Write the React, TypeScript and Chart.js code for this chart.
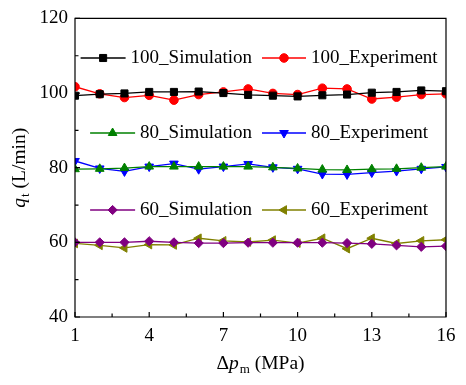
import React, { useEffect, useRef } from "react";
import { Chart, registerables } from "chart.js";

Chart.register(...registerables);

const xValues = [1, 2, 3, 4, 5, 6, 7, 8, 9, 10, 11, 12, 13, 14, 15, 16];
const sim100 = [99.3, 99.7, 99.9, 100.3, 100.3, 100.4, 100.0, 99.5, 99.3, 99.1, 99.4, 99.6, 100.1, 100.3, 100.7, 100.5];
const exp100 = [101.7, 99.8, 98.8, 99.4, 98.1, 99.6, 100.3, 101.1, 99.9, 99.6, 101.3, 101.1, 98.4, 98.9, 99.6, 99.8];
const sim80 = [79.6, 79.7, 79.9, 80.3, 80.3, 80.3, 80.3, 80.3, 80.1, 79.8, 79.5, 79.4, 79.6, 79.7, 80.0, 80.3];
const exp80 = [81.8, 79.8, 79.0, 80.3, 81.1, 79.6, 80.3, 81.0, 80.1, 79.7, 78.3, 78.2, 78.7, 79.1, 79.7, 80.2];
const sim60 = [60.0, 60.0, 60.0, 60.3, 60.0, 59.8, 59.8, 59.9, 59.9, 59.9, 59.9, 59.8, 59.6, 59.2, 58.8, 59.0];
const exp60 = [59.7, 59.2, 58.5, 59.4, 59.3, 61.1, 60.4, 60.1, 60.6, 59.8, 61.1, 58.3, 61.1, 59.7, 60.4, 60.7];

const seriesLabels = ["100_Simulation", "100_Experiment", "80_Simulation", "80_Experiment", "60_Simulation", "60_Experiment"];
const seriesValues = [sim100, exp100, sim80, exp80, sim60, exp60];
const seriesColors = ["#000000", "#ff0000", "#008000", "#0000ff", "#800080", "#808000"];
const seriesMarkers = ["rect", "circle", "triangle", "triangle", "rectRot", "triangle"];
const seriesRotations = [0, 0, 0, 180, 0, 270];
const seriesRadii = [5, 4.3, 5, 5, 4.6, 5];

const yMajorTicks = [40, 60, 80, 100, 120];
const yMinorTicks = [50, 70, 90, 110];
const xMajorTicks = [1, 4, 7, 10, 13, 16];
const xMinorTicks = [2.5, 5.5, 8.5, 11.5, 14.5];

const FONT = "'Liberation Serif', 'Times New Roman', serif";

function drawMarker(ctx: CanvasRenderingContext2D, style: string, x: number, y: number, r: number, rotDeg: number, color: string) {
  ctx.save();
  ctx.fillStyle = color;
  ctx.strokeStyle = color;
  ctx.lineWidth = 1;
  ctx.beginPath();
  let rad = (rotDeg * Math.PI) / 180;
  if (style === "circle") {
    ctx.arc(x, y, r, 0, Math.PI * 2);
  } else if (style === "rect") {
    const s = Math.SQRT1_2 * r;
    ctx.rect(x - s, y - s, 2 * s, 2 * s);
  } else if (style === "rectRot") {
    ctx.moveTo(x - r, y);
    ctx.lineTo(x, y + r);
    ctx.lineTo(x + r, y);
    ctx.lineTo(x, y - r);
  } else {
    const t = (2 * Math.PI) / 3;
    ctx.moveTo(x + Math.sin(rad) * r, y - Math.cos(rad) * r);
    rad += t;
    ctx.lineTo(x + Math.sin(rad) * r, y - Math.cos(rad) * r);
    rad += t;
    ctx.lineTo(x + Math.sin(rad) * r, y - Math.cos(rad) * r);
  }
  ctx.closePath();
  ctx.fill();
  ctx.stroke();
  ctx.restore();
}

const decorPlugin = {
  id: "decor",
  afterDraw(chart: any) {
    const ctx: CanvasRenderingContext2D = chart.ctx;
    const { left, right, top, bottom } = chart.chartArea;
    const xs = chart.scales.x;
    const ys = chart.scales.y;
    ctx.save();
    ctx.strokeStyle = "#000";
    ctx.lineWidth = 1.2;
    ctx.beginPath();
    ctx.rect(left, top, right - left, bottom - top);
    ctx.stroke();
    ctx.beginPath();
    for (const v of yMajorTicks) {
      const py = ys.getPixelForValue(v);
      ctx.moveTo(left, py);
      ctx.lineTo(left + 5, py);
    }
    for (const v of yMinorTicks) {
      const py = ys.getPixelForValue(v);
      ctx.moveTo(left, py);
      ctx.lineTo(left + 3.5, py);
    }
    for (const v of xMajorTicks) {
      const px = xs.getPixelForValue(v);
      ctx.moveTo(px, bottom);
      ctx.lineTo(px, bottom - 5);
    }
    for (const v of xMinorTicks) {
      const px = xs.getPixelForValue(v);
      ctx.moveTo(px, bottom);
      ctx.lineTo(px, bottom - 3.5);
    }
    ctx.stroke();

    // Legend (embedded in plot area)
    ctx.font = `19px ${FONT}`;
    ctx.fillStyle = "#000";
    ctx.textBaseline = "middle";
    const rowY = [58, 133, 210];
    for (let i = 0; i < seriesLabels.length; i++) {
      const row = Math.floor(i / 2);
      const col = i % 2;
      const y = rowY[row];
      const label = seriesLabels[i];
      const w = ctx.measureText(label).width;
      let lx0: number, lx1: number, tx: number;
      if (col === 0) {
        tx = 252 - w;
        lx1 = tx - 5;
        lx0 = lx1 - 45;
      } else {
        lx0 = 262;
        lx1 = 306;
        tx = 311;
      }
      ctx.strokeStyle = seriesColors[i];
      ctx.lineWidth = 1.3;
      ctx.beginPath();
      ctx.moveTo(lx0, y);
      ctx.lineTo(lx1, y);
      ctx.stroke();
      drawMarker(ctx, seriesMarkers[i], (lx0 + lx1) / 2, y, seriesRadii[i], seriesRotations[i], seriesColors[i]);
      ctx.fillStyle = "#000";
      ctx.textAlign = "left";
      ctx.fillText(label, tx, y);
    }

    // Y title: q_t (L/min)
    ctx.textBaseline = "alphabetic";
    ctx.textAlign = "left";
    const mainFont = `19.5px ${FONT}`;
    const italFont = `italic 19.5px ${FONT}`;
    const subFont = `13px ${FONT}`;
    ctx.save();
    ctx.translate(25, (top + bottom) / 2);
    ctx.rotate(-Math.PI / 2);
    ctx.font = italFont;
    const wq = ctx.measureText("q").width;
    ctx.font = subFont;
    const wt = ctx.measureText("t").width;
    ctx.font = mainFont;
    const wrest = ctx.measureText(" (L/min)").width;
    let cx = -(wq + wt + 1 + wrest) / 2;
    ctx.font = italFont;
    ctx.fillText("q", cx, 0);
    cx += wq + 1;
    ctx.font = subFont;
    ctx.fillText("t", cx, 4);
    cx += wt;
    ctx.font = mainFont;
    ctx.fillText(" (L/min)", cx, 0);
    ctx.restore();

    // X title: Δp_m (MPa)
    ctx.font = mainFont;
    const wD = ctx.measureText("\u0394").width;
    ctx.font = italFont;
    const wp = ctx.measureText("p").width;
    ctx.font = subFont;
    const wm = ctx.measureText("m").width;
    ctx.font = mainFont;
    const wr = ctx.measureText(" (MPa)").width;
    let bx = (left + right) / 2 - (wD + wp + wm + 1 + wr) / 2;
    const by = 369;
    ctx.font = mainFont;
    ctx.fillText("\u0394", bx, by);
    bx += wD;
    ctx.font = italFont;
    ctx.fillText("p", bx, by);
    bx += wp + 1;
    ctx.font = subFont;
    ctx.fillText("m", bx, by + 4);
    bx += wm;
    ctx.font = mainFont;
    ctx.fillText(" (MPa)", bx, by);
    ctx.restore();
  },
};

export default function App() {
  const canvasRef = useRef<HTMLCanvasElement | null>(null);
  useEffect(() => {
    if (!canvasRef.current) return;
    const datasets = seriesLabels.map((label, i) => ({
      label,
      data: xValues.map((x, j) => ({ x, y: seriesValues[i][j] })),
      borderColor: seriesColors[i],
      backgroundColor: seriesColors[i],
      borderWidth: 1.3,
      pointStyle: seriesMarkers[i] as any,
      pointRotation: seriesRotations[i],
      pointRadius: seriesRadii[i],
      pointBorderWidth: 1,
      pointBackgroundColor: seriesColors[i],
      pointBorderColor: seriesColors[i],
      tension: 0,
    }));
    const chart = new Chart(canvasRef.current, {
      type: "line",
      data: { datasets },
      options: {
        animation: false,
        responsive: false,
        devicePixelRatio: 1,
        layout: { padding: { top: 14, right: 20, left: 0, bottom: 0 } },
        plugins: { legend: { display: false }, tooltip: { enabled: false } },
        scales: {
          x: {
            type: "linear",
            min: 1,
            max: 16,
            afterFit: (s: any) => {
              s.height = 68;
            },
            afterBuildTicks: (s: any) => {
              s.ticks = xMajorTicks.map((v) => ({ value: v }));
            },
            grid: { display: false, drawTicks: false },
            border: { display: false },
            ticks: { color: "#000", font: { family: FONT, size: 19 }, padding: 8, maxRotation: 0 },
          },
          y: {
            type: "linear",
            min: 40,
            max: 120,
            afterFit: (s: any) => {
              s.width = 75;
            },
            afterBuildTicks: (s: any) => {
              s.ticks = yMajorTicks.map((v) => ({ value: v }));
            },
            grid: { display: false, drawTicks: false },
            border: { display: false },
            ticks: { color: "#000", font: { family: FONT, size: 19 }, padding: 7 },
          },
        },
      },
      plugins: [decorPlugin],
    });
    return () => chart.destroy();
  }, []);
  return (
    <div style={{ position: "fixed", left: 0, top: 0, width: 466, height: 385, background: "#fff" }}>
      <canvas ref={canvasRef} width={466} height={385} style={{ width: 466, height: 385, display: "block" }} />
    </div>
  );
}
